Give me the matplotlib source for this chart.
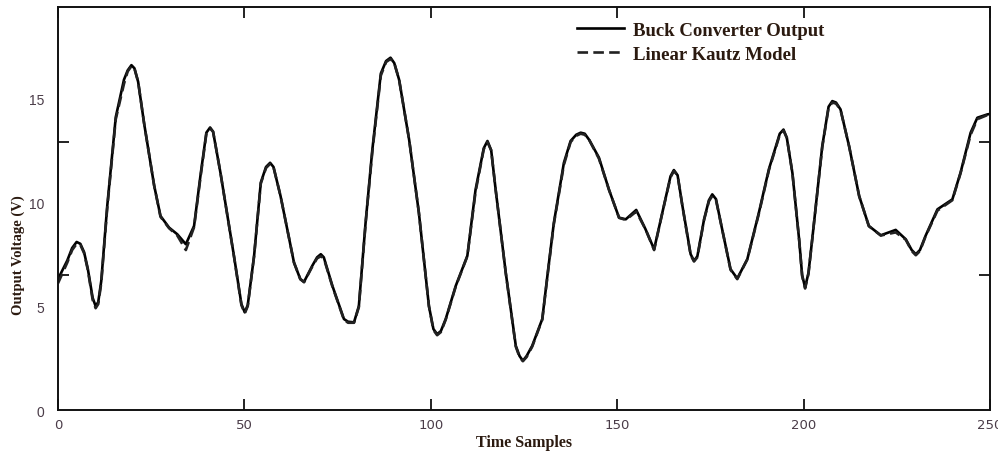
"""
Buck converter output vs. linear Kautz model, redrawn from a scanned figure.
"""
import matplotlib
matplotlib.use("Agg")
import matplotlib.pyplot as plt

t = [0, 2.5, 3.8, 5.0, 6.0, 7.0, 8.0, 9.3, 10.1, 10.8,
     11.6, 13.2, 15.5, 17.7, 18.7, 19.7, 20.5, 21.5, 23.1, 25.8,
     27.5, 29.8, 32.0, 34.3, 36.5, 38.3, 39.8, 40.8, 41.6, 43.6,
     47.2, 49.2, 50.1, 50.9, 52.6, 54.4, 55.8, 56.9, 57.8, 59.7,
     63.3, 65.0, 66.0, 68.2, 69.5, 70.5, 71.3, 73.6, 76.7, 77.8,
     79.4, 80.7, 82.5, 84.3, 86.6, 88.0, 89.2, 90.2, 91.5, 94.2,
     96.8, 99.5, 100.7, 101.7, 102.7, 104.0, 106.7, 109.8, 112.0, 114.2,
     115.2, 116.2, 117.4, 120.1, 122.8, 123.8, 124.7, 125.7, 127.2, 129.9,
     131.5, 133.0, 135.7, 137.5, 139.0, 140.2, 141.3, 142.5, 145.1, 147.8,
     150.5, 152.3, 155.1, 157.6, 159.9, 162.5, 164.3, 165.2, 166.2, 167.5,
     169.7, 170.6, 171.5, 173.3, 174.6, 175.5, 176.5, 177.8, 180.4, 182.2,
     184.9, 188.0, 190.7, 193.6, 194.6, 195.5, 197.0, 198.8, 199.6, 200.4,
     201.3, 202.3, 205.0, 206.7, 207.7, 208.7, 209.9, 212.2, 214.9, 217.5,
     220.7, 224.7, 227.4, 229.0, 230.1, 231.2, 232.7, 235.9, 239.9, 242.1,
     244.8, 246.6, 249.3, 250]

# measured buck converter output (V)
buck_out = [6.3, 7.2, 7.8, 8.09, 8.0, 7.6, 6.8, 5.4, 5.0, 5.2,
            6.2, 9.8, 14.1, 15.9, 16.35, 16.6, 16.45, 15.8, 13.8, 10.8,
            9.34, 8.78, 8.46, 7.98, 8.86, 11.4, 13.35, 13.6, 13.4, 11.4,
            7.42, 5.1, 4.7, 5.05, 7.42, 10.95, 11.7, 11.9, 11.7, 10.3,
            7.1, 6.3, 6.17, 6.94, 7.35, 7.5, 7.35, 5.98, 4.38, 4.25,
            4.22, 5.0, 9.0, 12.5, 16.2, 16.8, 16.96, 16.7, 15.9, 13.0,
            9.5, 5.0, 3.9, 3.65, 3.8, 4.38, 5.98, 7.42, 10.6, 12.6,
            12.95, 12.5, 10.6, 6.62, 3.09, 2.6, 2.37, 2.6, 3.09, 4.38,
            6.8, 9.0, 11.9, 12.95, 13.25, 13.35, 13.3, 13.0, 12.15, 10.6,
            9.26, 9.18, 9.63, 8.7, 7.74, 9.82, 11.25, 11.55, 11.3, 9.82,
            7.5, 7.18, 7.4, 9.18, 10.1, 10.38, 10.15, 9.0, 6.78, 6.33,
            7.26, 9.5, 11.6, 13.3, 13.5, 13.1, 11.4, 8.2, 6.5, 5.9,
            6.6, 8.2, 12.7, 14.6, 14.87, 14.8, 14.47, 12.7, 10.3, 8.86,
            8.41, 8.67, 8.22, 7.7, 7.5, 7.7, 8.38, 9.66, 10.14, 11.43,
            13.35, 14.07, 14.23, 14.25]

# linear Kautz model output (V)
kautz_out = [6.1, 7.1, 7.7, 8.0, 7.95, 7.55, 6.75, 5.3, 4.9, 5.1,
             6.1, 9.7, 14.0, 15.7, 16.3, 16.55, 16.45, 15.8, 13.8, 10.8,
             9.3, 8.75, 8.4, 7.7, 8.8, 11.3, 13.3, 13.55, 13.4, 11.4,
             7.4, 5.05, 4.65, 5.0, 7.4, 10.9, 11.65, 11.85, 11.7, 10.3,
             7.1, 6.3, 6.15, 6.9, 7.3, 7.4, 7.3, 5.95, 4.35, 4.2,
             4.2, 4.95, 8.95, 12.4, 16.1, 16.75, 16.9, 16.7, 15.9, 13.0,
             9.5, 5.0, 3.85, 3.6, 3.75, 4.35, 5.95, 7.4, 10.5, 12.55,
             12.9, 12.5, 10.6, 6.6, 3.05, 2.55, 2.35, 2.55, 3.05, 4.35,
             6.75, 8.95, 11.8, 12.9, 13.2, 13.3, 13.25, 13.0, 12.1, 10.6,
             9.25, 9.15, 9.55, 8.7, 7.7, 9.8, 11.2, 11.5, 11.3, 9.8,
             7.45, 7.15, 7.35, 9.15, 10.05, 10.3, 10.1, 9.0, 6.75, 6.3,
             7.25, 9.45, 11.55, 13.25, 13.45, 13.1, 11.4, 8.2, 6.45, 5.85,
             6.55, 8.2, 12.65, 14.55, 14.8, 14.75, 14.45, 12.7, 10.3, 8.85,
             8.4, 8.55, 8.2, 7.65, 7.45, 7.65, 8.35, 9.6, 10.1, 11.4,
             13.25, 14.0, 14.2, 14.25]

x_ticks = [0, 50, 100, 150, 200, 250]
y_ticks = [0, 5, 10, 15]
y_marks = [6.5, 12.9]   # unlabeled tick marks on the side axes

label_col = "#2b1a10"
tick_col = "#4a3c48"

fig = plt.figure(figsize=(9.98, 4.52), dpi=100)
ax = fig.add_axes([0.0581, 0.0907, 0.9339, 0.8916])

ax.plot(t, buck_out, color="black", lw=1.9, label="Buck Converter Output")
ax.plot(t, kautz_out, color="#222222", lw=1.9, ls=(0, (4, 2)),
        label="Linear Kautz Model")

ax.set_xlim(0, 250)
ax.set_ylim(0, 19.4)

for sp in ax.spines.values():
    sp.set_linewidth(1.4)
    sp.set_color("#111111")

# x ticks on bottom and top, pointing inward
ax.set_xticks(x_ticks)
ax.tick_params(axis="x", direction="in", length=8, width=1.3, top=True,
               colors="#111111", labelcolor=tick_col, labelsize=9.5, pad=6)

# y labels without marks, marks on both sides without labels
ax.set_yticks(y_ticks)
ax.tick_params(axis="y", which="major", length=0, labelcolor=tick_col,
               labelsize=10, pad=10)
ax.set_yticks(y_marks, minor=True)
ax.tick_params(axis="y", which="minor", direction="in", length=8, width=1.3,
               right=True, colors="#111111")
for lab in ax.get_yticklabels():
    lab.set_family(["Liberation Sans", "DejaVu Sans"])

ax.set_xlabel("Time Samples", family="Liberation Serif", fontweight="bold",
              fontsize=11.5, color=label_col, labelpad=2)
fig.text(0.018, 0.435, "Output Voltage (V)", rotation=90, ha="center",
         va="center", family="Liberation Serif", fontweight="bold",
         fontsize=10.5, color=label_col)

leg = ax.legend(loc="upper left", bbox_to_anchor=(0.539, 1.005), frameon=False,
                handlelength=2.5, handletextpad=0.45, labelspacing=0.35,
                prop={"family": "Liberation Serif", "weight": "bold",
                      "size": 13.5})
for txt in leg.get_texts():
    txt.set_color(label_col)

fig.savefig("out.png", dpi=100)
